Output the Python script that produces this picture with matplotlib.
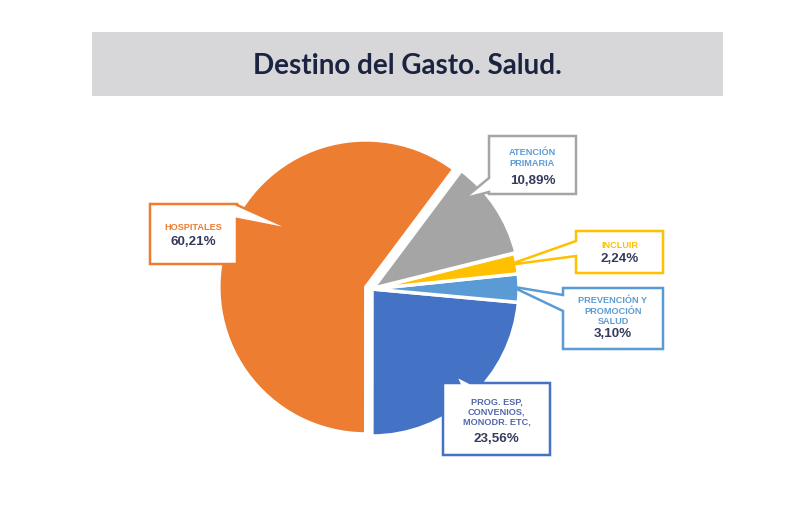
import numpy as np
import matplotlib
matplotlib.use("Agg")
import matplotlib.pyplot as plt
from matplotlib.patches import Polygon, Rectangle

# - - - - - - - DATA - - - - - - -
categories = ["HOSPITALES", "PROG. ESP,\nCONVENIOS,\nMONODR. ETC,", "PREVENCIÓN Y\nPROMOCIÓN\nSALUD",
              "INCLUIR", "ATENCIÓN\nPRIMARIA"]
values = [60.21, 23.56, 3.10, 2.24, 10.89]
slice_colors = ["#ed7d31", "#4472c4", "#5b9bd5", "#ffc000", "#a5a5a5"]
label_colors = ["#ed7d31", "#5468ac", "#5b9bd5", "#ffc000", "#5b9bd5"]
title = "Destino del Gasto. Salud."

# - - - - - - - LAYOUT (pixels, origin top-left) - - - - - - -
W, H = 790, 506
center_px = (372, 290)
radius = 147
explode = [6.5, 0, 0, 0, 1.5]   # pie explode is in data units (pixels here)
start = 53.2

# box (x0, y0, x1, y1), pointer side, pointer base (b1, b2), tip (angle, radius frac)
boxes = [
    ((150, 205, 237, 265), "right", (206, 220), (142, 0.63)),
    ((443, 384, 550, 456), "top", (459, 470), (-46, 0.82)),
    ((563, 289, 663, 350), "left", (296, 312), (1, 0.95)),
    ((576, 232, 663, 274), "left", (242, 257), (10, 0.94)),
    ((489, 137, 576, 195), "left", (179, 193), (44.6, 0.87)),
]
# label block centre y, value centre y
text_y = [(227, 242), (412, 439), (311, 334), (245, 259), (158, 181)]

VALUE_COLOR = "#343a5c"


def px(x, y):
    return (x, H - y)


def callout(rect, side, base, tip):
    x0, y0, x1, y1 = rect
    b1, b2 = base
    if side == "top":
        pts = [(x0, y0), (b1, y0), tip, (b2, y0), (x1, y0), (x1, y1), (x0, y1)]
    elif side == "right":
        pts = [(x0, y0), (x1, y0), (x1, b1), tip, (x1, b2), (x1, y1), (x0, y1)]
    elif side == "bottom":
        pts = [(x0, y0), (x1, y0), (x1, y1), (b2, y1), tip, (b1, y1), (x0, y1)]
    else:
        pts = [(x0, y0), (x1, y0), (x1, y1), (x0, y1), (x0, b2), tip, (x0, b1)]
    return [px(*p) for p in pts]


# - - - - - - - MAIN - - - - - - -
def main():
    fig = plt.figure(figsize=(W / 100, H / 100), dpi=100)
    fig.patch.set_facecolor("white")
    ax = fig.add_axes([0, 0, 1, 1])

    cx, cy = px(*center_px)
    wedges, _ = ax.pie(values, colors=slice_colors, startangle=start, counterclock=True,
                       explode=explode, center=(cx, cy), radius=radius,
                       wedgeprops=dict(edgecolor="white", linewidth=2.5))

    ax.set_xlim(0, W)
    ax.set_ylim(0, H)
    ax.set_aspect("equal")
    ax.axis("off")

    # title bar
    ax.add_patch(Rectangle(px(92, 97), 631, 64, facecolor="#d7d7da", edgecolor="none", zorder=1))
    ax.text(407, H - 66, title, ha="center", va="center", fontsize=20, family="Lato",
            fontweight="bold", color="#1b2340", zorder=2)

    for i, (rect, side, base, (ang, frac)) in enumerate(boxes):
        w = wedges[i]
        ox, oy = w.center
        a = np.deg2rad(ang)
        tip_x = ox + frac * radius * np.cos(a)
        tip_y = H - (oy + frac * radius * np.sin(a))
        poly = Polygon(callout(rect, side, base, (tip_x, tip_y)), closed=True,
                       facecolor="white", edgecolor=slice_colors[i], linewidth=1.8, zorder=5)
        ax.add_patch(poly)
        xc = (rect[0] + rect[2]) / 2
        ly, vy = text_y[i]
        ax.text(xc, H - ly, categories[i], ha="center", va="center", fontsize=6.6,
                family="Liberation Sans", fontweight="bold", color=label_colors[i],
                linespacing=1.15, zorder=6)
        val = f"{values[i]:.2f}".replace(".", ",") + "%"
        ax.text(xc, H - vy, val, ha="center", va="center", fontsize=9.6,
                family="Liberation Sans", fontweight="bold", color=VALUE_COLOR, zorder=6)

    fig.savefig("out.png", dpi=100, facecolor="white")


# - - - - - - - RUN - - - - - - -
if __name__ == "__main__":
    main()
